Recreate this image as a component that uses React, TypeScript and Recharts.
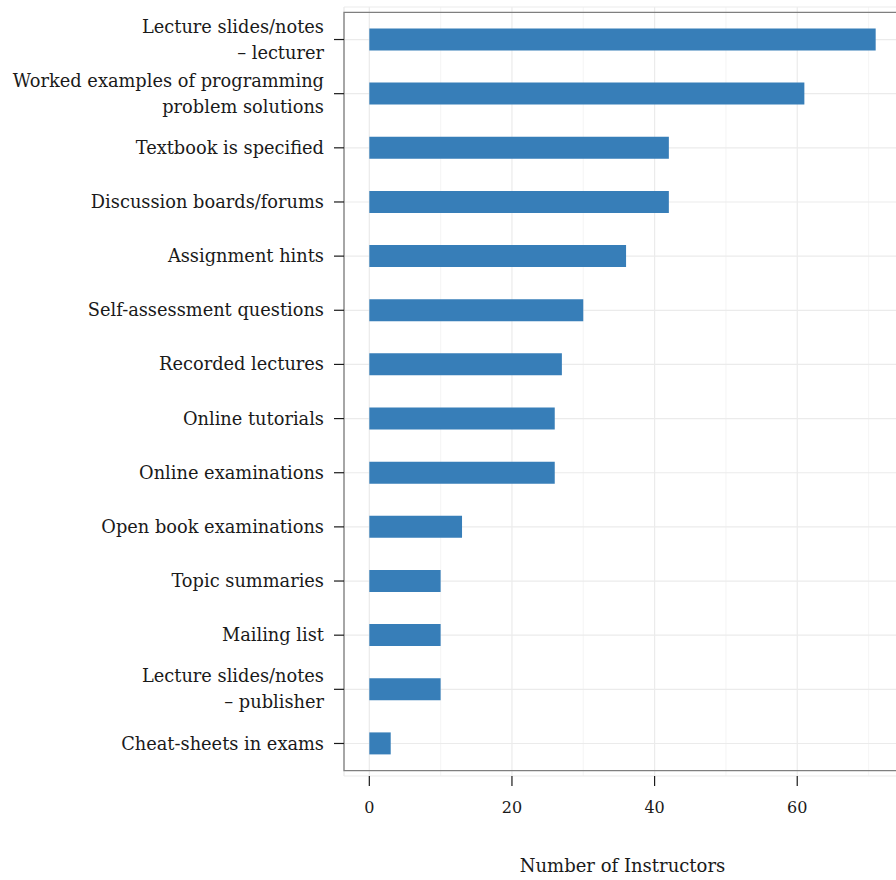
import React from "react";
import { BarChart, Bar, XAxis, YAxis, CartesianGrid, ReferenceArea } from "recharts";

const categories = [
  "Lecture slides/notes\n– lecturer",
  "Worked examples of programming\nproblem solutions",
  "Textbook is specified",
  "Discussion boards/forums",
  "Assignment hints",
  "Self-assessment questions",
  "Recorded lectures",
  "Online tutorials",
  "Online examinations",
  "Open book examinations",
  "Topic summaries",
  "Mailing list",
  "Lecture slides/notes\n– publisher",
  "Cheat-sheets in exams",
];
const instructors = [71, 61, 42, 42, 36, 30, 27, 26, 26, 13, 10, 10, 10, 3];
const xTicks = [0, 20, 40, 60];
const minorTicks = [10, 30, 50, 70];

const data = categories.map((c, i) => ({ name: c, value: instructors[i] }));

const FONT = "'DejaVu Serif', serif";

const YTick = (props: any) => {
  const { x, y, payload } = props;
  const lines = String(payload.value).split("\n");
  const lh = 26;
  const start = -((lines.length - 1) * lh) / 2;
  return (
    <text x={x - 8} y={y} textAnchor="end" fontFamily={FONT} fontSize={17.8} fill="#1a1a1a">
      {lines.map((l, i) => (
        <tspan key={i} x={x - 8} y={y + start + i * lh} dy="0.34em">
          {l}
        </tspan>
      ))}
    </text>
  );
};

const XTick = (props: any) => {
  const { x, y, payload } = props;
  return (
    <text x={x} y={y + 25} textAnchor="middle" fontFamily={FONT} fontSize={16} fill="#1a1a1a">
      {payload.value}
    </text>
  );
};

export default function App() {
  return (
    <div style={{ position: "absolute", left: 0, top: 0, width: 896, height: 880, overflow: "hidden", background: "#fff" }}>
      <BarChart
        width={910}
        height={880}
        data={data}
        layout="vertical"
        margin={{ top: 7, right: 9, bottom: 0, left: 0 }}
        barCategoryGap={0}
      >
        <CartesianGrid xAxisId="minor" stroke="#f6f6f6" strokeWidth={1.2} horizontal={false} />
        <CartesianGrid stroke="#ebebeb" strokeWidth={1.2} />
        <XAxis
          xAxisId="minor"
          type="number"
          dataKey="value"
          domain={[-3.55, 74.55]}
          allowDataOverflow
          ticks={minorTicks}
          hide
          height={0}
        />
        <XAxis
          type="number"
          dataKey="value"
          domain={[-3.55, 74.55]}
          allowDataOverflow
          ticks={xTicks}
          tick={<XTick />}
          tickSize={10}
          tickLine={{ stroke: "#1a1a1a", strokeWidth: 1.2 }}
          axisLine={false}
          height={104}
          label={{ value: "Number of Instructors", position: "insideBottom", offset: 8, fontFamily: FONT, fontSize: 18, fill: "#1a1a1a" }}
        />
        <YAxis
          type="category"
          dataKey="name"
          width={344}
          tick={<YTick />}
          tickSize={10}
          tickLine={{ stroke: "#1a1a1a", strokeWidth: 1.2 }}
          axisLine={false}
          interval={0}
          padding={{ top: 5.45, bottom: 5.45 }}
        />
        <Bar dataKey="value" fill="#377EB8" barSize={22} isAnimationActive={false} />
        <ReferenceArea x1={-3.55} x2={74.55} fill="none" stroke="#7f7f7f" strokeWidth={1.3} ifOverflow="visible" />
      </BarChart>
    </div>
  );
}
